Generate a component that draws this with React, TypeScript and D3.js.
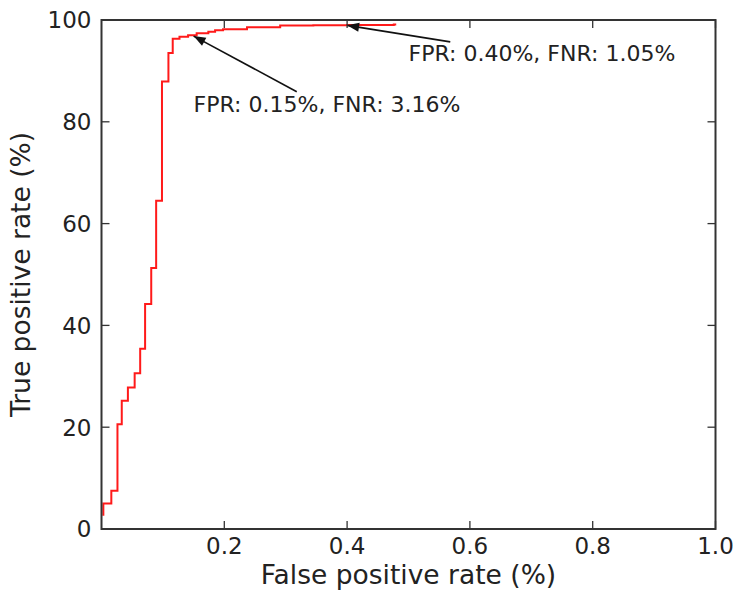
import React from 'react';
import * as d3 from 'd3';

// ROC corners: each point is the level reached after the vertical step at that FPR
const fpr = [0.003, 0.003, 0.016, 0.026, 0.033, 0.043, 0.054, 0.063, 0.071, 0.081, 0.089, 0.0985, 0.109, 0.116, 0.127, 0.141, 0.155, 0.174, 0.185, 0.198, 0.237, 0.291, 0.345, 0.4, 0.476, 0.48];
const tpr = [2.6, 5.0, 7.5, 20.6, 25.2, 27.8, 30.6, 35.4, 44.2, 51.3, 64.5, 87.9, 93.5, 96.3, 96.7, 97.0, 97.4, 97.7, 98.0, 98.2, 98.6, 98.9, 98.95, 99.0, 99.1, 99.1];

const xTicks = [0.2, 0.4, 0.6, 0.8, 1.0];
const xTickLabels = ['0.2', '0.4', '0.6', '0.8', '1.0'];
const yTicks = [0, 20, 40, 60, 80, 100];
const yTickLabels = ['0', '20', '40', '60', '80', '100'];

// annotations: arrow tip, arrow tail and text anchor, in data units
const notes = [
  { label: 'FPR: 0.15%, FNR: 3.16%', tip: [0.15, 96.84], tail: [0.318, 85.9], text: [0.15, 82] },
  { label: 'FPR: 0.40%, FNR: 1.05%', tip: [0.4, 98.95], tail: [0.568, 95.7], text: [0.5, 92] },
];

const W = 741;
const H = 597;
const plot = { left: 101.5, right: 715.5, top: 20, bottom: 529 };
const font = '"DejaVu Sans", sans-serif';
const ink = '#222';

export default function App() {
  const x = d3.scaleLinear().domain([0, 1]).range([plot.left, plot.right]);
  const y = d3.scaleLinear().domain([0, 100]).range([plot.bottom, plot.top]);

  const pts = fpr.map((f, i) => [f, tpr[i]] as [number, number]);
  const line = d3.line<[number, number]>()
    .x(d => x(d[0]))
    .y(d => y(d[1]))
    .curve(d3.curveStepAfter);

  const tickLen = 8;

  return (
    <svg width={W} height={H} style={{ position: 'absolute', left: 0, top: 0, background: '#fff' }} fontFamily={font}>
      <path d={line(pts) || ''} fill="none" stroke="#ff1a1a" strokeWidth={2} />

      {/* annotations */}
      {notes.map((n, i) => {
        const x1 = x(n.tail[0]), y1 = y(n.tail[1]);
        const x2 = x(n.tip[0]), y2 = y(n.tip[1]);
        const ang = Math.atan2(y2 - y1, x2 - x1);
        const hl = 12, hw = 4.5;
        const bx = x2 - hl * Math.cos(ang), by = y2 - hl * Math.sin(ang);
        const head = [
          [x2, y2],
          [bx + hw * Math.sin(ang), by - hw * Math.cos(ang)],
          [bx - hw * Math.sin(ang), by + hw * Math.cos(ang)],
        ].map(p => p.join(',')).join(' ');
        return (
          <g key={i}>
            <line x1={x1} y1={y1} x2={x2} y2={y2} stroke="#111" strokeWidth={1.6} />
            <polygon points={head} fill="#111" />
            <text x={x(n.text[0])} y={y(n.text[1])} fontSize={22} fill={ink}>{n.label}</text>
          </g>
        );
      })}

      {/* ticks, inward on all sides */}
      {xTicks.map((t, i) => (
        <g key={'x' + i}>
          <line x1={x(t)} x2={x(t)} y1={plot.bottom} y2={plot.bottom - tickLen} stroke="#333" strokeWidth={1.3} />
          <line x1={x(t)} x2={x(t)} y1={plot.top} y2={plot.top + tickLen} stroke="#333" strokeWidth={1.3} />
          <text x={x(t)} y={plot.bottom + 25} fontSize={23} textAnchor="middle" fill={ink}>{xTickLabels[i]}</text>
        </g>
      ))}
      {yTicks.map((t, i) => (
        <g key={'y' + i}>
          <line x1={plot.left} x2={plot.left + tickLen} y1={y(t)} y2={y(t)} stroke="#333" strokeWidth={1.3} />
          <line x1={plot.right} x2={plot.right - tickLen} y1={y(t)} y2={y(t)} stroke="#333" strokeWidth={1.3} />
          <text x={plot.left - 10} y={y(t) + 8.3} fontSize={23} textAnchor="end" fill={ink}>{yTickLabels[i]}</text>
        </g>
      ))}

      <rect x={plot.left} y={plot.top} width={plot.right - plot.left} height={plot.bottom - plot.top}
        fill="none" stroke="#333" strokeWidth={2} />

      <text x={(plot.left + plot.right) / 2} y={584} fontSize={26.5} textAnchor="middle" fill={ink}>False positive rate (%)</text>
      <text transform={`translate(30,${(plot.top + plot.bottom) / 2}) rotate(-90)`} fontSize={26.5} textAnchor="middle" fill={ink}>True positive rate (%)</text>
    </svg>
  );
}
